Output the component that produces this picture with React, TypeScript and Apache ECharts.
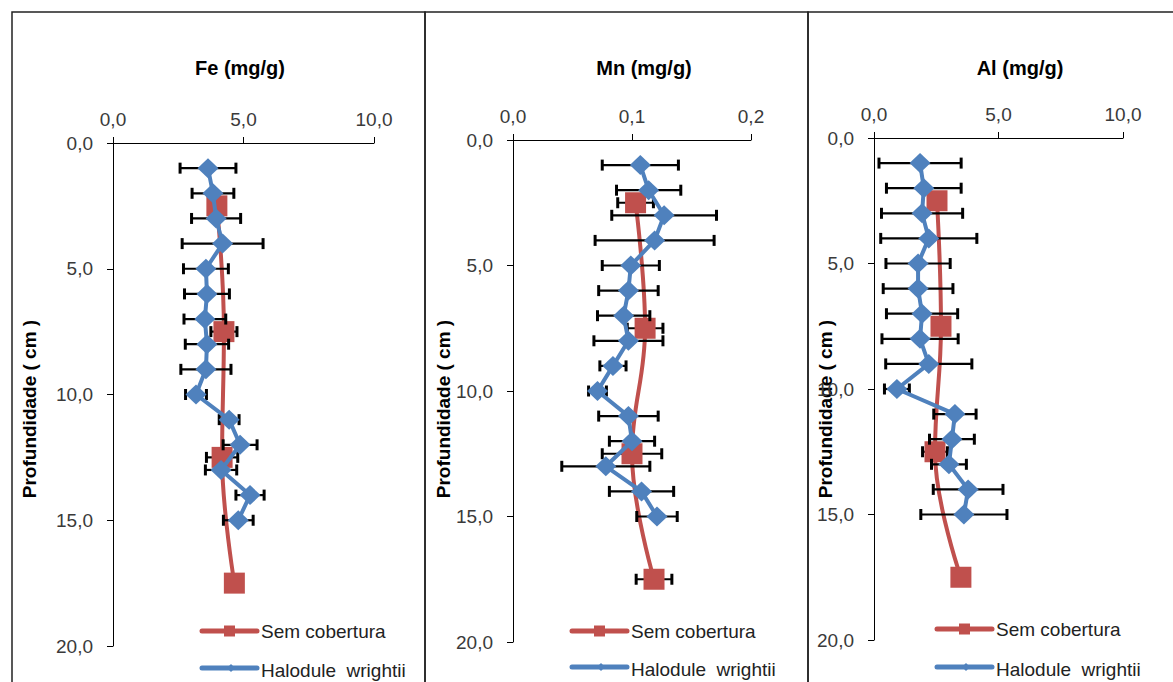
import React, { useEffect, useRef } from "react";
import * as echarts from "echarts";

// Depths (cm)
const depthHW = [1, 2, 3, 4, 5, 6, 7, 8, 9, 10, 11, 12, 13, 14, 15];
const depthSC = [2.5, 7.5, 12.5, 17.5];

// Fe (mg/g)
const feHW = [3.64, 3.83, 3.95, 4.2, 3.56, 3.6, 3.52, 3.6, 3.56, 3.18, 4.45, 4.87, 4.14, 5.25, 4.8];
const feHWErr = [1.07, 0.8, 0.94, 1.55, 0.86, 0.86, 0.8, 0.83, 0.96, 0.4, 0.38, 0.65, 0.6, 0.54, 0.57];
const feSC = [3.98, 4.25, 4.18, 4.65];
const feSCErr = [0.3, 0.5, 0.6, 0.2];

// Mn (mg/g)
const mnHW = [0.107, 0.114, 0.127, 0.119, 0.099, 0.097, 0.093, 0.097, 0.084, 0.071, 0.097, 0.1, 0.078, 0.108, 0.121];
const mnHWErr = [0.032, 0.027, 0.044, 0.05, 0.024, 0.025, 0.022, 0.029, 0.011, 0.0075, 0.025, 0.019, 0.037, 0.027, 0.017];
const mnSC = [0.103, 0.111, 0.1, 0.1185];
const mnSCErr = [0.015, 0.015, 0.025, 0.015];

// Al (mg/g)
const alHW = [1.85, 2.0, 1.93, 2.2, 1.77, 1.77, 1.93, 1.85, 2.2, 0.92, 3.25, 3.13, 3.01, 3.78, 3.61];
const alHWErr = [1.65, 1.5, 1.63, 1.93, 1.29, 1.4, 1.43, 1.53, 1.73, 0.5, 0.85, 0.9, 0.7, 1.4, 1.73];
const alSC = [2.53, 2.69, 2.45, 3.49];
const alSCErr = [0.3, 0.3, 0.5, 0.2];

const titles = ["Fe (mg/g)", "Mn (mg/g)", "Al (mg/g)"];
const xMax = [10, 0.2, 10];
const xInterval = [5, 0.1, 5];
const yTicks = { min: 0, max: 20, interval: 5 };
const yName = "Profundidade ( cm )";
const seriesNames = ["Sem cobertura", "Halodule  wrightii"];

const RED = "#C0504D";
const BLUE = "#4F81BD";
const FONT = "'Liberation Sans', Arial, sans-serif";

const fmt = (v: number) => v.toFixed(1).replace(".", ",");

const panels = [
  { hw: feHW, hwErr: feHWErr, sc: feSC, scErr: feSCErr },
  { hw: mnHW, hwErr: mnHWErr, sc: mnSC, scErr: mnSCErr },
  { hw: alHW, hwErr: alHWErr, sc: alSC, scErr: alSCErr },
];

const grids = [
  { left: 113, top: 143, width: 261, height: 503 },
  { left: 513, top: 140, width: 238, height: 502 },
  { left: 874, top: 138, width: 249, height: 502 },
];
const boxes = [
  { x: 12, w: 413 },
  { x: 425, w: 383 },
  { x: 808, w: 380 },
];
const titleX = [240, 644, 1020];
const yNameX = [29, 443, 825];
const legendX = [202, 572, 937];
const legendY = [
  [631, 668],
  [631, 667],
  [629, 667],
];

function errRender(params: any, api: any) {
  const lo = api.coord([api.value(0), api.value(2)]);
  const hi = api.coord([api.value(1), api.value(2)]);
  const h = 5.5;
  const st = { stroke: "#000", lineWidth: 2.2 };
  const cap = { stroke: "#000", lineWidth: 3 };
  return {
    type: "group",
    children: [
      { type: "line", shape: { x1: lo[0], y1: lo[1], x2: hi[0], y2: hi[1] }, style: st },
      { type: "line", shape: { x1: lo[0], y1: lo[1] - h, x2: lo[0], y2: lo[1] + h }, style: cap },
      { type: "line", shape: { x1: hi[0], y1: hi[1] - h, x2: hi[0], y2: hi[1] + h }, style: cap },
    ],
  };
}

export default function App() {
  const ref = useRef<HTMLDivElement>(null);
  useEffect(() => {
    document.body.style.margin = "0";
    const chart = echarts.init(ref.current!, undefined, { renderer: "svg" });

    const xAxes = grids.map((_, i) => ({
      type: "value",
      gridIndex: i,
      position: "top",
      min: 0,
      max: xMax[i],
      interval: xInterval[i],
      axisLine: { show: true, onZero: false, lineStyle: { color: "#000", width: 1 } },
      axisTick: { show: true, length: 6, lineStyle: { color: "#000" } },
      splitLine: { show: false },
      axisLabel: { formatter: fmt, fontSize: 19, color: "#3a3a3a", fontFamily: FONT, margin: 14 },
    }));
    const yAxes = grids.map((_, i) => ({
      type: "value",
      gridIndex: i,
      inverse: true,
      min: yTicks.min,
      max: yTicks.max,
      interval: yTicks.interval,
      axisLine: { show: true, onZero: false, lineStyle: { color: "#000", width: 1 } },
      axisTick: { show: true, length: 6, lineStyle: { color: "#000" } },
      splitLine: { show: false },
      axisLabel: { formatter: fmt, fontSize: 19, color: "#3a3a3a", fontFamily: FONT, margin: 20 },
    }));

    const series: any[] = [];
    panels.forEach((p, i) => {
      series.push({
        type: "custom",
        xAxisIndex: i,
        yAxisIndex: i,
        renderItem: errRender,
        encode: { x: [0, 1], y: 2 },
        data: depthSC.map((d, k) => [p.sc[k] - p.scErr[k], p.sc[k] + p.scErr[k], d]),
        z: 2,
        silent: true,
      });
      series.push({
        type: "line",
        name: seriesNames[0],
        xAxisIndex: i,
        yAxisIndex: i,
        data: depthSC.map((d, k) => [p.sc[k], d]),
        smooth: 0.4,
        symbol: "rect",
        symbolSize: 21,
        lineStyle: { color: RED, width: 4 },
        itemStyle: { color: RED },
        z: 3,
      });
      series.push({
        type: "custom",
        xAxisIndex: i,
        yAxisIndex: i,
        renderItem: errRender,
        encode: { x: [0, 1], y: 2 },
        data: depthHW.map((d, k) => [p.hw[k] - p.hwErr[k], p.hw[k] + p.hwErr[k], d]),
        z: 4,
        silent: true,
      });
      series.push({
        type: "line",
        name: seriesNames[1],
        xAxisIndex: i,
        yAxisIndex: i,
        data: depthHW.map((d, k) => [p.hw[k], d]),
        symbol: "diamond",
        symbolSize: [21, 20],
        lineStyle: { color: BLUE, width: 4 },
        itemStyle: { color: BLUE },
        z: 5,
      });
    });

    const graphic: any[] = [];
    boxes.forEach((b) => {
      graphic.push({
        type: "rect",
        shape: { x: b.x, y: 12, width: b.w, height: 720 },
        style: { fill: "none", stroke: "#222", lineWidth: 1.5 },
        silent: true,
        z: 0,
      });
    });
    titles.forEach((t, i) => {
      graphic.push({
        type: "text",
        x: titleX[i],
        y: 68,
        style: {
          text: t,
          fontSize: 20,
          fontWeight: "bold",
          fontFamily: FONT,
          fill: "#000",
          align: "center",
          verticalAlign: "middle",
        },
      });
      graphic.push({
        type: "text",
        x: yNameX[i],
        y: 409,
        rotation: Math.PI / 2,
        style: {
          text: yName,
          fontSize: 19,
          fontWeight: "bold",
          fontFamily: FONT,
          fill: "#000",
          align: "center",
          verticalAlign: "middle",
        },
      });
      const lx = legendX[i];
      const [y1, y2] = legendY[i];
      graphic.push({
        type: "line",
        shape: { x1: lx, y1, x2: lx + 55, y2: y1 },
        style: { stroke: RED, lineWidth: 5, lineCap: "round" },
      });
      graphic.push({
        type: "rect",
        shape: { x: lx + 22, y: y1 - 5.5, width: 11, height: 11 },
        style: { fill: RED },
      });
      graphic.push({
        type: "text",
        x: lx + 59,
        y: y1,
        style: { text: seriesNames[0], fontSize: 19, fontFamily: FONT, fill: "#222", verticalAlign: "middle" },
      });
      graphic.push({
        type: "line",
        shape: { x1: lx, y1: y2, x2: lx + 55, y2: y2 },
        style: { stroke: BLUE, lineWidth: 5, lineCap: "round" },
      });
      graphic.push({
        type: "polygon",
        shape: {
          points: [
            [lx + 29, y2 - 4],
            [lx + 33, y2],
            [lx + 29, y2 + 4],
            [lx + 25, y2],
          ],
        },
        style: { fill: BLUE },
      });
      graphic.push({
        type: "text",
        x: lx + 59,
        y: y2 + 2,
        style: { text: seriesNames[1], fontSize: 19, fontFamily: FONT, fill: "#222", verticalAlign: "middle" },
      });
    });

    chart.setOption({
      animation: false,
      backgroundColor: "#fff",
      grid: grids,
      xAxis: xAxes,
      yAxis: yAxes,
      series,
      graphic,
    });
    return () => chart.dispose();
  }, []);
  return <div ref={ref} style={{ width: 1173, height: 682 }} />;
}
